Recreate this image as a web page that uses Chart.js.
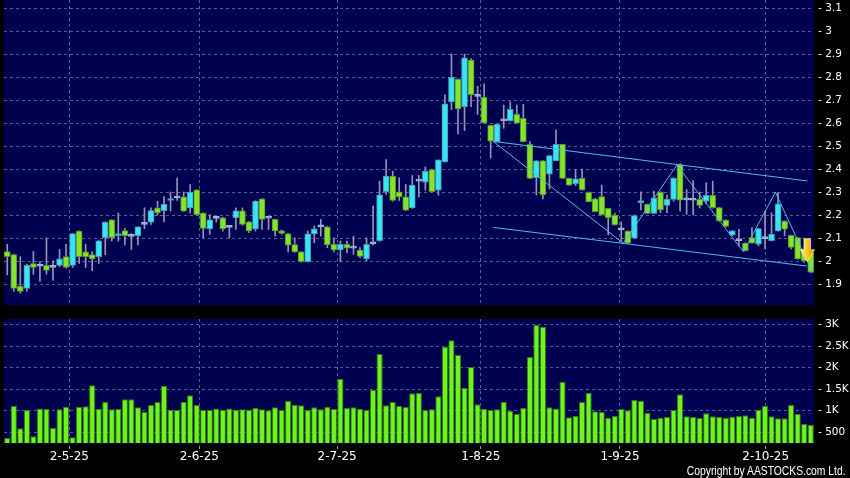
<!DOCTYPE html>
<html>
<head>
<meta charset="utf-8">
<title>Daily candles with volume</title>
<script src="https://cdn.jsdelivr.net/npm/chart.js@4.4.0/dist/chart.umd.min.js"></script>
<style>
    html, body { margin: 0; padding: 0; background: #000; width: 850px; height: 478px; overflow: hidden; }
    #price { position: absolute; left: 0; top: 0; }
    #volume { position: absolute; left: 0; top: 310px; }
    #copy {
        position: absolute; right: 4px; top: 464px; line-height: 14px;
        color: #fff; font: 12px "Liberation Sans", Arial, sans-serif;
        transform: scaleX(0.86); transform-origin: right center; white-space: nowrap;
    }
</style>
</head>
<body>
<canvas id="price" width="850" height="310"></canvas>
<canvas id="volume" width="850" height="168"></canvas>
<div id="copy">Copyright by AASTOCKS.com Ltd.</div>

<script>
// daily prices, one entry per session
var opens = [2.041, 2.028, 1.890, 1.881, 1.989, 1.977, 1.981, 1.972, 1.981, 2.019,
    1.981, 2.130, 2.040, 2.028, 2.019, 2.101, 2.179, 2.110, 2.132, 2.107,
    2.110, 2.159, 2.169, 2.231, 2.219, 2.263, 2.274, 2.279, 2.231, 2.309,
    2.208, 2.140, 2.185, 2.188, 2.146, 2.188, 2.218, 2.170, 2.140, 2.270,
    2.186, 2.181, 2.131, 2.118, 2.071, 2.040, 1.997, 2.118, 2.149, 2.149,
    2.072, 2.048, 2.072, 2.056, 2.048, 2.010, 2.075, 2.088, 2.301, 2.369,
    2.301, 2.279, 2.231, 2.347, 2.343, 2.398, 2.308, 2.431, 2.692, 2.791,
    2.671, 2.874, 2.716, 2.712, 2.590, 2.519, 2.609, 2.609, 2.638, 2.620,
    2.507, 2.362, 2.436, 2.378, 2.436, 2.507, 2.359, 2.336, 2.359, 2.299,
    2.270, 2.280, 2.229, 2.200, 2.135, 2.130, 2.099, 2.254, 2.246, 2.207,
    2.300, 2.242, 2.268, 2.419, 2.266, 2.264, 2.268, 2.260, 2.285, 2.232,
    2.178, 2.112, 2.088, 2.078, 2.102, 2.073, 2.097, 2.088, 2.131, 2.174,
    2.112, 2.102, 2.052, 2.037];
var highs = [2.073, 2.030, 2.019, 1.985, 2.041, 1.998, 2.101, 2.001, 2.050, 2.073,
    2.120, 2.131, 2.073, 2.041, 2.090, 2.170, 2.180, 2.209, 2.142, 2.119,
    2.150, 2.231, 2.231, 2.260, 2.280, 2.300, 2.361, 2.300, 2.332, 2.310,
    2.210, 2.202, 2.190, 2.190, 2.150, 2.231, 2.231, 2.171, 2.262, 2.271,
    2.187, 2.182, 2.135, 2.120, 2.101, 2.041, 2.130, 2.152, 2.181, 2.150,
    2.101, 2.087, 2.087, 2.108, 2.058, 2.101, 2.239, 2.347, 2.441, 2.391,
    2.362, 2.333, 2.372, 2.372, 2.409, 2.400, 2.440, 2.723, 2.900, 2.792,
    2.900, 2.880, 2.760, 2.770, 2.591, 2.595, 2.678, 2.693, 2.678, 2.681,
    2.519, 2.437, 2.437, 2.460, 2.570, 2.508, 2.360, 2.397, 2.400, 2.300,
    2.272, 2.330, 2.230, 2.207, 2.171, 2.131, 2.200, 2.301, 2.248, 2.304,
    2.301, 2.285, 2.362, 2.423, 2.311, 2.350, 2.300, 2.340, 2.347, 2.233,
    2.180, 2.133, 2.138, 2.080, 2.145, 2.142, 2.217, 2.210, 2.299, 2.175,
    2.113, 2.103, 2.100, 2.040];
var lows = [1.940, 1.868, 1.860, 1.868, 1.943, 1.911, 1.943, 1.917, 1.975, 1.969,
    1.972, 1.989, 1.972, 1.958, 1.989, 2.027, 2.087, 2.087, 2.070, 2.050,
    2.070, 2.140, 2.159, 2.199, 2.170, 2.217, 2.263, 2.215, 2.209, 2.200,
    2.101, 2.116, 2.170, 2.130, 2.101, 2.137, 2.155, 2.123, 2.130, 2.137,
    2.137, 2.108, 2.117, 2.040, 2.038, 1.995, 1.995, 2.079, 2.108, 2.058,
    2.040, 1.997, 2.036, 2.029, 2.014, 2.000, 2.070, 2.085, 2.289, 2.260,
    2.263, 2.219, 2.229, 2.279, 2.308, 2.300, 2.286, 2.430, 2.658, 2.553,
    2.567, 2.671, 2.637, 2.598, 2.448, 2.518, 2.577, 2.608, 2.598, 2.518,
    2.358, 2.287, 2.270, 2.313, 2.435, 2.358, 2.329, 2.328, 2.308, 2.257,
    2.213, 2.199, 2.113, 2.156, 2.084, 2.076, 2.098, 2.222, 2.206, 2.206,
    2.210, 2.210, 2.260, 2.217, 2.203, 2.200, 2.230, 2.250, 2.230, 2.173,
    2.148, 2.110, 2.066, 2.043, 2.077, 2.066, 2.052, 2.087, 2.130, 2.109,
    2.052, 2.008, 1.995, 1.950];
var closes = [2.019, 1.881, 1.868, 1.981, 1.972, 1.977, 1.959, 1.972, 2.009, 1.972,
    2.119, 2.019, 2.019, 2.009, 2.088, 2.169, 2.101, 2.119, 2.110, 2.107,
    2.149, 2.159, 2.219, 2.209, 2.248, 2.271, 2.274, 2.217, 2.300, 2.201,
    2.142, 2.179, 2.185, 2.140, 2.146, 2.218, 2.159, 2.131, 2.261, 2.181,
    2.186, 2.131, 2.120, 2.069, 2.040, 1.997, 2.118, 2.140, 2.149, 2.071,
    2.048, 2.072, 2.056, 2.056, 2.020, 2.072, 2.075, 2.288, 2.369, 2.263,
    2.279, 2.221, 2.330, 2.347, 2.391, 2.301, 2.440, 2.683, 2.800, 2.661,
    2.883, 2.723, 2.716, 2.600, 2.521, 2.594, 2.609, 2.659, 2.599, 2.519,
    2.359, 2.436, 2.287, 2.458, 2.507, 2.359, 2.330, 2.357, 2.309, 2.258,
    2.214, 2.200, 2.188, 2.157, 2.135, 2.077, 2.197, 2.258, 2.207, 2.275,
    2.222, 2.268, 2.361, 2.265, 2.266, 2.264, 2.242, 2.285, 2.232, 2.174,
    2.150, 2.131, 2.088, 2.045, 2.078, 2.141, 2.097, 2.117, 2.249, 2.138,
    2.059, 2.009, 2.001, 1.951];
var volumes = [360, 1106, 585, 1012, 399, 1050, 1036, 601, 1028, 1090,
    376, 1082, 1098, 1587, 1043, 1199, 1028, 1036, 1261, 1261,
    1075, 974, 1129, 1199, 1572, 1020, 1012, 1207, 1354, 1129,
    1012, 1012, 1050, 1020, 1050, 1020, 1028, 1020, 1067, 1028,
    1005, 1075, 1012, 1230, 1137, 1121, 1012, 1075, 1028, 1090,
    1036, 1742, 1059, 1075, 1043, 1012, 1478, 2317, 1121, 1199,
    1106, 1082, 1401, 1408, 1012, 1028, 1331, 2488, 2635, 2293,
    1525, 2014, 1144, 1036, 1012, 1028, 1207, 997, 919, 1067,
    2247, 3000, 2953, 1075, 1050, 1672, 842, 873, 1199, 1408,
    981, 966, 834, 873, 1036, 1005, 1245, 1230, 950, 803,
    834, 849, 1012, 1377, 865, 849, 826, 935, 865, 849,
    834, 857, 873, 888, 834, 1012, 1106, 865, 818, 818,
    1129, 919, 694, 671];

// axis labels
var dateTicks = [9.5, 29.4, 50.5, 72.5, 93.8, 116.1];
var dateLabels = ['2-5-25', '2-6-25', '2-7-25', '1-8-25', '1-9-25', '2-10-25'];
var priceTicks = [1.9, 2.0, 2.1, 2.2, 2.3, 2.4, 2.5, 2.6, 2.7, 2.8, 2.9, 3.0, 3.1];
var volTicks = [500, 1000, 1500, 2000, 2500, 3000];
var volTickLabels = ['500', '1K', '1.5K', '2K', '2.5K', '3K'];

// drawn trend lines [session, price]
var channelTop = [[74.4, 2.520], [122.5, 2.348]];
var channelBottom = [[74.4, 2.146], [122.4, 1.978]];
var zigzag = [[74.4, 2.520], [94.3, 2.077], [102.5, 2.417], [112.7, 2.040], [117.6, 2.299], [123.3, 1.949]];
var signalAt = [122.5, 1.997];

var navy = '#000050';
var gridCol = '#5a5a96';
var lineBlue = '#55b8ec';

Chart.defaults.font.family = '"DejaVu Sans", sans-serif';

var idx = opens.map(function (_, i) { return i; });

function pick(i, up, down, flat) {
    if (closes[i] > opens[i]) return up;
    if (closes[i] < opens[i]) return down;
    return flat;
}

function toPts(arr) {
    return arr.map(function (p) { return { x: p[0], y: p[1] }; });
}

function trendLine(arr) {
    return {
        type: 'line', data: toPts(arr), borderColor: lineBlue, borderWidth: 1,
        pointRadius: 0, tension: 0, order: 0, clip: 0
    };
}

var panelBg = {
    id: 'panelBg',
    beforeDraw: function (chart) {
        var a = chart.chartArea;
        chart.ctx.save();
        chart.ctx.fillStyle = navy;
        chart.ctx.fillRect(a.left, a.top, a.right - a.left, a.bottom - a.top);
        chart.ctx.restore();
    }
};

var signalArrow = {
    id: 'signalArrow',
    afterDatasetsDraw: function (chart) {
        var ctx = chart.ctx;
        var cx = chart.scales.x.getPixelForValue(signalAt[0]);
        var tip = chart.scales.y.getPixelForValue(signalAt[1]);
        var g = ctx.createLinearGradient(cx - 7, 0, cx + 7, 0);
        g.addColorStop(0, '#fff3b0');
        g.addColorStop(0.45, '#ffcc22');
        g.addColorStop(1, '#e08c00');
        ctx.save();
        ctx.fillStyle = g;
        ctx.strokeStyle = 'rgba(255,240,180,0.9)';
        ctx.lineWidth = 0.8;
        ctx.beginPath();
        ctx.moveTo(cx - 3, tip - 23);
        ctx.lineTo(cx + 3, tip - 23);
        ctx.lineTo(cx + 3, tip - 12);
        ctx.lineTo(cx + 7, tip - 12);
        ctx.lineTo(cx, tip);
        ctx.lineTo(cx - 7, tip - 12);
        ctx.lineTo(cx - 3, tip - 12);
        ctx.closePath();
        ctx.fill();
        ctx.stroke();
        ctx.restore();
    }
};

function dateAxis(showLabels, h) {
    return {
        type: 'linear', min: -0.5, max: 123.5, offset: false,
        afterBuildTicks: function (s) { s.ticks = dateTicks.map(function (v) { return { value: v }; }); },
        afterFit: function (s) { s.height = h; s.paddingLeft = 0; s.paddingRight = 0; },
        grid: {
            color: gridCol, offset: false, drawTicks: showLabels, tickLength: 6,
            tickColor: '#9a9a9a', tickBorderDash: [3, 3], tickBorderDashOffset: 3
        },
        border: { display: false, dash: [3, 3] },
        ticks: {
            display: showLabels, autoSkip: false, maxRotation: 0, padding: 1,
            color: '#ffffff', font: { size: 12 },
            callback: function (v, i) { return dateLabels[i]; }
        }
    };
}

function valueAxis(min, max, list, fmt, w) {
    return {
        position: 'right', min: min, max: max,
        afterBuildTicks: function (s) { s.ticks = list.map(function (v) { return { value: v }; }); },
        afterFit: function (s) { s.width = w; s.paddingTop = 0; s.paddingBottom = 0; },
        grid: { color: gridCol, drawTicks: false },
        border: { display: false, dash: [3, 3] },
        ticks: { color: '#ffffff', padding: 4, font: { size: 10.5 }, callback: fmt }
    };
}

new Chart(document.getElementById('price'), {
    type: 'bar',
    data: {
        datasets: [
            {
                label: 'range',
                data: idx.map(function (i) { return { x: i, y: [lows[i], highs[i]] }; }),
                backgroundColor: '#9494b4', barThickness: 1, grouped: false, order: 2, clip: 0
            },
            {
                label: 'body',
                data: idx.map(function (i) { return { x: i, y: [opens[i], closes[i]] }; }),
                backgroundColor: idx.map(function (i) { return pick(i, '#36e6f6', '#84e42a', '#a8b6da'); }),
                borderColor: idx.map(function (i) { return pick(i, '#4a95ac', '#54922e', '#a8b6da'); }),
                borderWidth: 1, borderSkipped: false, barThickness: 6, minBarLength: 2,
                grouped: false, order: 1, clip: 0
            },
            trendLine(channelTop),
            trendLine(channelBottom),
            trendLine(zigzag)
        ]
    },
    options: {
        responsive: false,
        animation: false,
        layout: { padding: { left: 4, top: 0, right: 0, bottom: 5 } },
        plugins: { legend: { display: false }, tooltip: { enabled: false } },
        scales: {
            x: dateAxis(false, 0),
            y: valueAxis(1.8087, 3.1348, priceTicks, function (v) {
                return '- ' + (Math.round(v * 10) / 10);
            }, 36)
        }
    },
    plugins: [panelBg, signalArrow]
});

new Chart(document.getElementById('volume'), {
    type: 'bar',
    data: {
        datasets: [{
            label: 'volume',
            data: idx.map(function (i) { return { x: i, y: volumes[i] }; }),
            backgroundColor: '#6cf41c', borderColor: '#2e7a0c', borderWidth: 1,
            borderSkipped: false, barPercentage: 0.95, categoryPercentage: 1, clip: 0
        }]
    },
    options: {
        responsive: false,
        animation: false,
        layout: { padding: { left: 4, top: 9, right: 0, bottom: 0 } },
        plugins: { legend: { display: false }, tooltip: { enabled: false } },
        scales: {
            x: dateAxis(true, 35),
            y: valueAxis(244, 3133, volTicks, function (v, i) {
                return '- ' + volTickLabels[i];
            }, 36)
        }
    },
    plugins: [panelBg]
});
</script>
</body>
</html>
